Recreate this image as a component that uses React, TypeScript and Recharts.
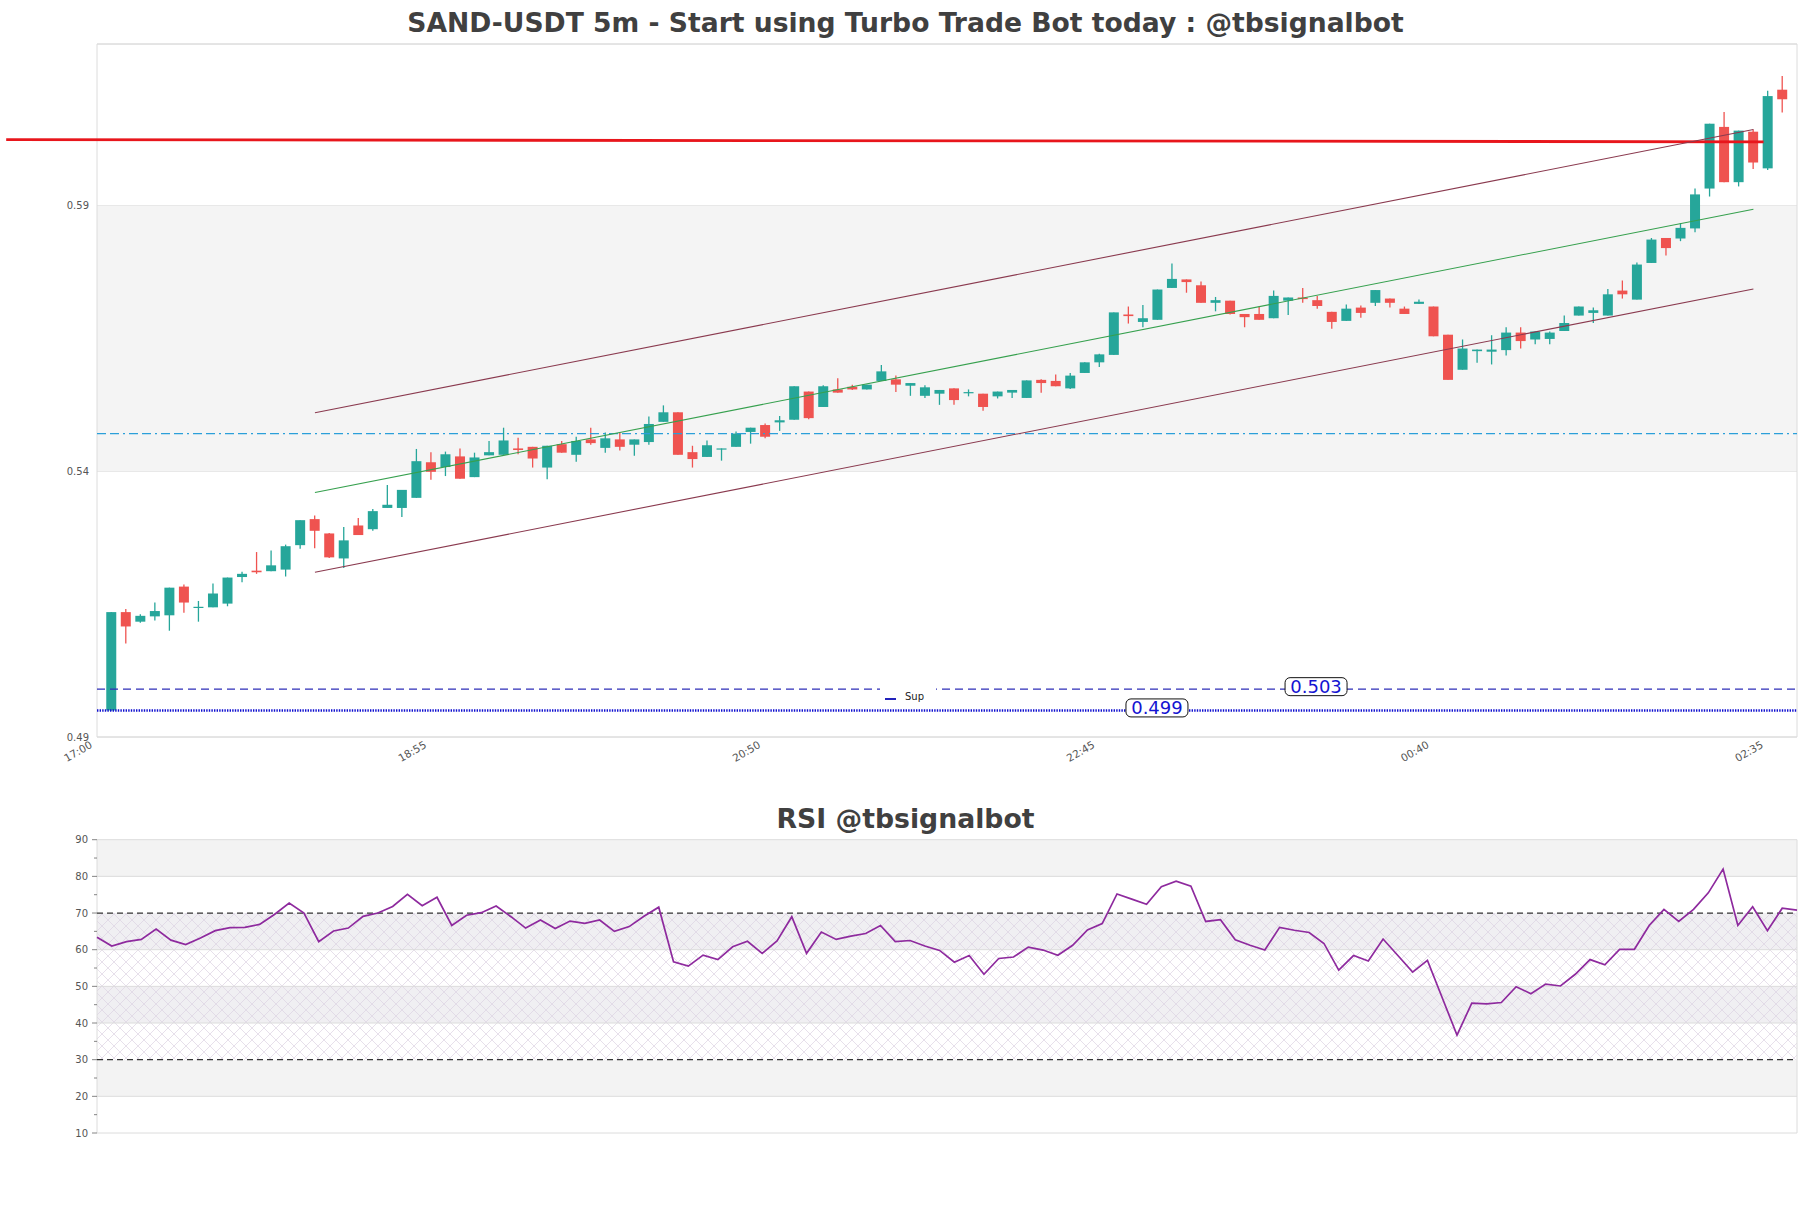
import React from 'react';
import {
  ComposedChart,
  Bar,
  Line,
  XAxis,
  YAxis,
  CartesianGrid,
  ReferenceLine,
  ReferenceArea,
  ReferenceDot,
  Legend,
} from 'recharts';

// 5m candles, 17:05 .. 02:40 (index 1..116)
const opens = [
  0.499, 0.5175, 0.5157, 0.5167, 0.5169, 0.5223, 0.5183, 0.5184, 0.5191, 0.5241,
  0.5253, 0.5252, 0.5255, 0.5301, 0.535, 0.5323, 0.5276, 0.5338, 0.5331, 0.5371,
  0.5371, 0.539, 0.5457, 0.5448, 0.5468, 0.5429, 0.547, 0.5471, 0.5483, 0.5486,
  0.5447, 0.5491, 0.5471, 0.55, 0.5484, 0.55, 0.549, 0.5495, 0.5533, 0.5551,
  0.5476, 0.5467, 0.5482, 0.5486, 0.5514, 0.5527, 0.5532, 0.5537, 0.559, 0.5561,
  0.5594, 0.5599, 0.5594, 0.561, 0.5613, 0.5601, 0.5582, 0.5586, 0.5596, 0.5588,
  0.5586, 0.5581, 0.5588, 0.5578, 0.5612, 0.561, 0.5596, 0.5625, 0.5645, 0.5659,
  0.5735, 0.5721, 0.5725, 0.5785, 0.5801, 0.579, 0.5757, 0.5761, 0.5736, 0.5736,
  0.5728, 0.5761, 0.5767, 0.5762, 0.574, 0.5723, 0.5748, 0.5757, 0.5765, 0.5746,
  0.5755, 0.575, 0.5697, 0.5631, 0.5666, 0.5665, 0.5668, 0.5701, 0.5688, 0.5689,
  0.5704, 0.5733, 0.5738, 0.5733, 0.578, 0.5763, 0.5832, 0.5879, 0.5878, 0.5897,
  0.5972, 0.6088, 0.5984, 0.6079, 0.601, 0.6158,
];
const highs = [
  0.5175, 0.5181, 0.5171, 0.5193, 0.5221, 0.5227, 0.5196, 0.5229, 0.524, 0.5251,
  0.5288, 0.5291, 0.5302, 0.5348, 0.5357, 0.5324, 0.5335, 0.5352, 0.5369, 0.5414,
  0.5405, 0.5482, 0.5476, 0.5477, 0.5483, 0.5475, 0.5497, 0.5522, 0.5503, 0.5486,
  0.5488, 0.5497, 0.5505, 0.5522, 0.5513, 0.5513, 0.55, 0.5543, 0.5564, 0.5551,
  0.5488, 0.5498, 0.5483, 0.5515, 0.5522, 0.553, 0.5544, 0.56, 0.559, 0.5602,
  0.5615, 0.5603, 0.5603, 0.564, 0.562, 0.5606, 0.5602, 0.5593, 0.5596, 0.5594,
  0.5586, 0.559, 0.5593, 0.5611, 0.5613, 0.5622, 0.5625, 0.5645, 0.5661, 0.5739,
  0.575, 0.5753, 0.5782, 0.5831, 0.5801, 0.5797, 0.5768, 0.5761, 0.5736, 0.575,
  0.578, 0.5767, 0.5785, 0.577, 0.574, 0.5754, 0.5752, 0.5781, 0.5765, 0.575,
  0.5763, 0.575, 0.5697, 0.5688, 0.5669, 0.5696, 0.5711, 0.5711, 0.5703, 0.5703,
  0.5733, 0.575, 0.5748, 0.5783, 0.5799, 0.5833, 0.5879, 0.5879, 0.5907, 0.5972,
  0.6094, 0.6116, 0.6081, 0.6083, 0.6156, 0.6184,
];
const lows = [
  0.499, 0.5116, 0.5155, 0.5159, 0.514, 0.5174, 0.5157, 0.5184, 0.5186, 0.5231,
  0.5247, 0.5252, 0.5242, 0.5294, 0.5295, 0.5277, 0.5258, 0.532, 0.5328, 0.5371,
  0.5354, 0.539, 0.5424, 0.5431, 0.5426, 0.5429, 0.547, 0.5471, 0.5472, 0.5447,
  0.5425, 0.5475, 0.5458, 0.549, 0.5475, 0.5479, 0.5469, 0.549, 0.5533, 0.5471,
  0.5447, 0.5467, 0.546, 0.5486, 0.5492, 0.5502, 0.5516, 0.5537, 0.5538, 0.5561,
  0.5588, 0.5593, 0.5594, 0.561, 0.5589, 0.5582, 0.5578, 0.5565, 0.5565, 0.5581,
  0.5554, 0.5577, 0.5578, 0.5578, 0.5588, 0.56, 0.5595, 0.5625, 0.5636, 0.5659,
  0.5718, 0.5711, 0.5725, 0.5785, 0.5776, 0.5757, 0.5741, 0.5735, 0.5711, 0.5725,
  0.5728, 0.5734, 0.5757, 0.5746, 0.5708, 0.5723, 0.5729, 0.5751, 0.5748, 0.5736,
  0.5755, 0.5694, 0.5612, 0.5631, 0.5644, 0.5641, 0.5658, 0.5671, 0.5679, 0.5679,
  0.5704, 0.5733, 0.5719, 0.5733, 0.5765, 0.5763, 0.5832, 0.5846, 0.5873, 0.589,
  0.5957, 0.5984, 0.5976, 0.6009, 0.6007, 0.6115,
];
const closes = [
  0.5175, 0.5148, 0.5168, 0.5177, 0.5221, 0.5193, 0.5185, 0.521, 0.524, 0.5247,
  0.525, 0.5263, 0.5299, 0.5348, 0.5328, 0.5278, 0.531, 0.532, 0.5365, 0.5377,
  0.5405, 0.5459, 0.5439, 0.5472, 0.5426, 0.5466, 0.5476, 0.5498, 0.548, 0.5464,
  0.5488, 0.5475, 0.5497, 0.5493, 0.5502, 0.5486, 0.55, 0.5529, 0.5551, 0.5471,
  0.5463, 0.5489, 0.5483, 0.5511, 0.5522, 0.5505, 0.5536, 0.56, 0.554, 0.56,
  0.5588, 0.5594, 0.5603, 0.5628, 0.5603, 0.5606, 0.5598, 0.5593, 0.5574, 0.5589,
  0.5561, 0.559, 0.5593, 0.5611, 0.5606, 0.56, 0.562, 0.5645, 0.566, 0.5739,
  0.5732, 0.5728, 0.5782, 0.5802, 0.5796, 0.5757, 0.5762, 0.5736, 0.573, 0.5725,
  0.577, 0.5767, 0.5764, 0.5751, 0.5721, 0.5746, 0.5738, 0.5781, 0.5757, 0.5736,
  0.5759, 0.5694, 0.5612, 0.5671, 0.5669, 0.5669, 0.5701, 0.5685, 0.5703, 0.5701,
  0.5719, 0.575, 0.5743, 0.5773, 0.5773, 0.5829, 0.5876, 0.586, 0.5898, 0.5961,
  0.6094, 0.5984, 0.6081, 0.6021, 0.6146, 0.614,
];

const rsiValues = [
  63.4, 61.0, 62.2, 62.8, 65.6, 62.6, 61.4, 63.2, 65.2, 66.0,
  66.1, 66.9, 69.6, 72.7, 70.0, 62.2, 65.1, 65.9, 69.1, 70.0,
  71.8, 75.1, 72.0, 74.3, 66.6, 69.4, 70.1, 71.9, 69.0, 65.9,
  68.1, 65.8, 67.8, 67.2, 68.1, 65.0, 66.3, 69.1, 71.6, 56.7,
  55.5, 58.5, 57.3, 60.8, 62.3, 59.0, 62.4, 69.0, 59.0, 64.8,
  62.8, 63.7, 64.4, 66.6, 62.2, 62.5, 61.0, 59.8, 56.6, 58.4,
  53.3, 57.6, 58.0, 60.7, 59.9, 58.5, 61.2, 65.4, 67.1, 75.2,
  73.8, 72.4, 77.2, 78.7, 77.3, 67.7, 68.2, 62.7, 61.2, 59.9,
  66.1, 65.3, 64.7, 61.7, 54.4, 58.4, 56.9, 62.9, 58.4, 53.9,
  57.1, 46.9, 36.7, 45.4, 45.2, 45.6, 49.9, 48.0, 50.6, 50.1,
  53.3, 57.3, 55.9, 60.1, 60.1, 66.6, 71.0, 67.7, 71.0, 75.5,
  82.0, 66.6, 71.7, 65.2, 71.3, 70.8,
];

const timeTicks = [0, 23, 46, 69, 92, 115];
const timeLabels = ['17:00', '18:55', '20:50', '22:45', '00:40', '02:35'];
const priceTicks = [0.494, 0.544, 0.594];
const priceDomain = [0.494, 0.6244];
const rsiTicks = [10, 15, 20, 25, 30, 35, 40, 45, 50, 55, 60, 65, 70, 75, 80, 85, 90];
const rsiGrid = [20, 40, 50, 60, 80];

// levels drawn on the price panel
const resistance = { from: -6.25, to: 114.7, y1: 0.6064, y2: 0.6060 };
const midLevel = 0.5511;
const supports = [
  { y: 0.503, tagAt: 83.9 },
  { y: 0.499, tagAt: 72.95 },
];
const channel = { from: 15, to: 114, mid: [0.54, 0.5933], half: 0.015 };

const UP = '#26a69a';
const DOWN = '#ef5350';
const FONT = '"DejaVu Sans", "Liberation Sans", sans-serif';

const candles = opens.map((o, i) => ({
  t: i + 1,
  o,
  h: highs[i],
  l: lows[i],
  c: closes[i],
  range: [lows[i], highs[i]],
}));
const rsiData = rsiValues.map((rsi, i) => ({ t: i, rsi }));

function Candle(props: any) {
  const { x, y, width, height } = props;
  const p = props.payload ?? props;
  if (p == null || y == null || height == null) return null;
  const span = p.h - p.l || 1e-9;
  const k = height / span;
  const yOf = (v: number) => y + (p.h - v) * k;
  const color = p.c >= p.o ? UP : DOWN;
  const top = yOf(Math.max(p.o, p.c));
  const bot = yOf(Math.min(p.o, p.c));
  const cx = x + width / 2;
  return (
    <g>
      <line x1={cx} x2={cx} y1={y} y2={y + height} stroke={color} strokeWidth={1.3} />
      <rect x={x} y={top} width={width} height={Math.max(bot - top, 1.2)} fill={color} />
    </g>
  );
}

function TimeTick(props: any) {
  const { x, y, payload } = props;
  const label = timeLabels[timeTicks.indexOf(payload.value)] ?? '';
  const ax = x - 4;
  const ay = y + 10;
  return (
    <text x={ax} y={ay} textAnchor="end" fontSize={10.5} fill="#555" transform={`rotate(-30 ${ax} ${ay})`}>
      {label}
    </text>
  );
}

function RsiTick(props: any) {
  const { x, y, payload } = props;
  const v = payload.value;
  const major = v % 10 === 0;
  return (
    <g>
      <line x1={x - (major ? 5 : 3)} x2={x} y1={y} y2={y} stroke="#666" strokeWidth={0.8} />
      {major && (
        <text x={x - 9} y={y} dy="0.35em" textAnchor="end" fontSize={10} fill="#555">
          {v}
        </text>
      )}
    </g>
  );
}

function LevelTag({ cx, cy, text }: { cx: number; cy: number; text: string }) {
  const w = 62;
  const h = 18;
  const c = cy - 2.5;
  return (
    <g>
      <rect x={cx - w / 2} y={c - h / 2} width={w} height={h} rx={5} fill="#fff" stroke="#111" strokeWidth={1} />
      <text x={cx} y={c} dy="0.36em" textAnchor="middle" fontSize={18} fill="#1414d2">
        {text}
      </text>
    </g>
  );
}

function SupLegend() {
  return (
    <div style={{ width: 56, height: 22, background: '#fff', position: 'relative', fontFamily: FONT }}>
      <div style={{ position: 'absolute', left: 5, top: 11, width: 11, height: 2, background: '#2222bb' }} />
      <span style={{ position: 'absolute', left: 25, top: 4, fontSize: 10, color: '#222' }}>Sup</span>
    </div>
  );
}

export default function App() {
  const lineStart = channel.from;
  const lineEnd = channel.to;
  return (
    <div style={{ position: 'absolute', left: 0, top: 0, width: 1811, height: 1208, background: '#fff', fontFamily: FONT }}>
      <ComposedChart
        width={1811}
        height={790}
        data={candles}
        margin={{ top: 44, right: 14, bottom: 3, left: 37 }}
        style={{ position: 'absolute', left: 0, top: 0 }}
      >
        <XAxis
          dataKey="t"
          type="number"
          domain={[0, 117]}
          allowDataOverflow
          ticks={timeTicks}
          tick={<TimeTick />}
          tickLine={false}
          tickSize={0}
          tickMargin={0}
          axisLine={false}
          height={50}
        />
        <YAxis
          type="number"
          domain={priceDomain}
          allowDataOverflow
          ticks={priceTicks}
          tickFormatter={(v: number) => v.toFixed(2)}
          tick={{ fontSize: 10, fill: '#555' }}
          tickLine={false}
          axisLine={false}
          width={60}
        />
        <ReferenceArea y1={priceTicks[1]} y2={priceTicks[2]} fill="#f4f4f4" fillOpacity={1} stroke="none" />
        <CartesianGrid vertical={false} stroke="#dcdcdc" />
        <ReferenceArea x1={0} x2={117} y1={priceDomain[0]} y2={priceDomain[1]} fill="none" stroke="#dcdcdc" />
        <ReferenceLine
          segment={[
            { x: resistance.from, y: resistance.y1 },
            { x: resistance.to, y: resistance.y2 },
          ]}
          stroke="#e8161c"
          strokeWidth={2.8}
          ifOverflow="visible"
        />
        <ReferenceLine y={midLevel} stroke="#2b9fd9" strokeWidth={1.2} strokeDasharray="9 4 9 4 2 4" />
        <ReferenceLine y={supports[0].y} stroke="#2e2eb8" strokeWidth={1.3} strokeDasharray="8 5" />
        <ReferenceLine y={supports[1].y} stroke="#1010d0" strokeWidth={2.4} strokeDasharray="1.4 1.2" />
        <ReferenceLine
          segment={[
            { x: lineStart, y: channel.mid[0] + channel.half },
            { x: lineEnd, y: channel.mid[1] + channel.half },
          ]}
          stroke="#8a3a4f"
          strokeWidth={1.1}
        />
        <ReferenceLine
          segment={[
            { x: lineStart, y: channel.mid[0] },
            { x: lineEnd, y: channel.mid[1] },
          ]}
          stroke="#36a04e"
          strokeWidth={1.1}
        />
        <ReferenceLine
          segment={[
            { x: lineStart, y: channel.mid[0] - channel.half },
            { x: lineEnd, y: channel.mid[1] - channel.half },
          ]}
          stroke="#8a3a4f"
          strokeWidth={1.1}
        />
        <Bar dataKey="range" barSize={10} shape={<Candle />} isAnimationActive={false} />
        {supports.map((s) => (
          <ReferenceDot
            key={s.y}
            x={s.tagAt}
            y={s.y}
            r={0}
            shape={(p: any) => <LevelTag cx={p.cx} cy={p.cy} text={s.y.toFixed(3)} />}
          />
        ))}
        <Legend
          layout="horizontal"
          verticalAlign="middle"
          align="center"
          wrapperStyle={{ left: 880, top: 687, width: 56, height: 22 }}
          content={() => <SupLegend />}
        />
      </ComposedChart>

      <ComposedChart
        width={1811}
        height={360}
        data={rsiData}
        margin={{ top: 39.7, right: 14, bottom: 27, left: 37 }}
        style={{ position: 'absolute', left: 0, top: 800 }}
      >
        <defs>
          <pattern id="rsiHatch" patternUnits="userSpaceOnUse" width="12" height="12">
            <path d="M0,0 L12,12 M12,0 L0,12" stroke="#dcd2e2" strokeWidth={0.7} />
          </pattern>
        </defs>
        <XAxis dataKey="t" type="number" domain={[0, 115]} hide />
        <YAxis
          type="number"
          domain={[10, 90]}
          allowDataOverflow
          ticks={rsiTicks}
          interval={0}
          tick={<RsiTick />}
          tickLine={false}
          tickSize={0}
          tickMargin={0}
          axisLine={false}
          width={60}
        />
        <ReferenceArea y1={80} y2={90} fill="#f3f3f3" fillOpacity={1} stroke="none" />
        <ReferenceArea y1={60} y2={70} fill="#f0eff2" fillOpacity={1} stroke="none" />
        <ReferenceArea y1={40} y2={50} fill="#f0eff2" fillOpacity={1} stroke="none" />
        <ReferenceArea y1={20} y2={30} fill="#f3f3f3" fillOpacity={1} stroke="none" />
        <ReferenceArea y1={30} y2={70} fill="url(#rsiHatch)" fillOpacity={1} stroke="none" />
        {rsiGrid.map((g) => (
          <ReferenceLine key={g} y={g} stroke="#dcdcdc" strokeWidth={1} />
        ))}
        <ReferenceLine y={70} stroke="#333" strokeWidth={1.3} strokeDasharray="6 4" />
        <ReferenceLine y={30} stroke="#333" strokeWidth={1.3} strokeDasharray="6 4" />
        <ReferenceArea x1={0} x2={115} y1={10} y2={90} fill="none" stroke="#dcdcdc" />
        <Line dataKey="rsi" stroke="#8e2a9e" strokeWidth={1.7} dot={false} isAnimationActive={false} />
      </ComposedChart>

      <div
        style={{
          position: 'absolute',
          left: 0,
          top: 8,
          width: 1811,
          textAlign: 'center',
          fontSize: 26.6,
          lineHeight: '30px',
          fontWeight: 'bold',
          color: '#404040',
        }}
      >
        SAND-USDT 5m - Start using Turbo Trade Bot today : @tbsignalbot
      </div>
      <div
        style={{
          position: 'absolute',
          left: 0,
          top: 804,
          width: 1811,
          textAlign: 'center',
          fontSize: 26.7,
          lineHeight: '30px',
          fontWeight: 'bold',
          color: '#404040',
        }}
      >
        RSI @tbsignalbot
      </div>
    </div>
  );
}
